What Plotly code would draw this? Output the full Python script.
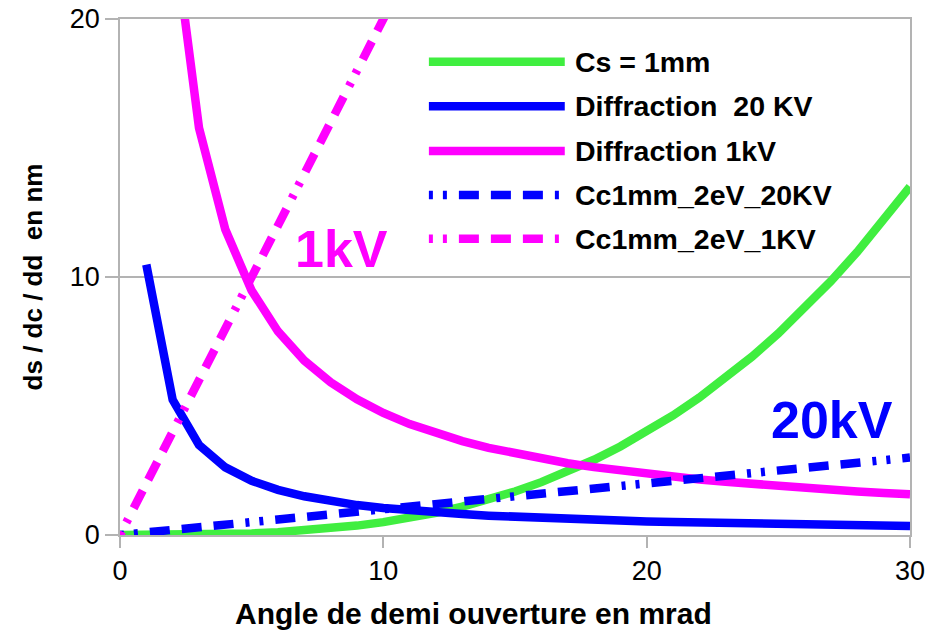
import plotly.graph_objects as go

# Half-aperture angle (mrad)
angle = list(range(0, 31))
angle_diff = list(range(1, 31))

# Spherical aberration, Cs = 1 mm (nm)
cs_1mm = [0.0, 0.0005, 0.004, 0.0135, 0.032, 0.0625, 0.108, 0.1715, 0.256, 0.3645,
          0.5, 0.6655, 0.864, 1.0985, 1.372, 1.6875, 2.048, 2.4565, 2.916, 3.4295,
          4.0, 4.6305, 5.324, 6.0835, 6.912, 7.8125, 8.788, 9.8415, 10.976, 12.1945, 13.5]

# Diffraction disc at 20 kV and 1 kV (nm)
diff_20kv = [10.48, 5.24, 3.49, 2.62, 2.10, 1.75, 1.50, 1.31, 1.16, 1.05,
             0.95, 0.87, 0.81, 0.75, 0.70, 0.66, 0.62, 0.58, 0.55, 0.52,
             0.50, 0.48, 0.46, 0.44, 0.42, 0.40, 0.39, 0.37, 0.36, 0.35]
diff_1kv = [47.3, 23.67, 15.78, 11.84, 9.47, 7.89, 6.76, 5.92, 5.26, 4.73,
            4.30, 3.95, 3.64, 3.38, 3.16, 2.96, 2.78, 2.63, 2.49, 2.37,
            2.25, 2.15, 2.06, 1.97, 1.89, 1.82, 1.75, 1.69, 1.63, 1.58]

# Chromatic aberration, Cc = 1 mm, dE = 2 eV (nm)
cc_20kv = [0.0, 0.1, 0.2, 0.3, 0.4, 0.5, 0.6, 0.7, 0.8, 0.9,
           1.0, 1.1, 1.2, 1.3, 1.4, 1.5, 1.6, 1.7, 1.8, 1.9,
           2.0, 2.1, 2.2, 2.3, 2.4, 2.5, 2.6, 2.7, 2.8, 2.9, 3.0]
cc_1kv = [0, 2, 4, 6, 8, 10, 12, 14, 16, 18,
          20, 22, 24, 26, 28, 30, 32, 34, 36, 38,
          40, 42, 44, 46, 48, 50, 52, 54, 56, 58, 60]

series_names = ["Cs = 1mm", "Diffraction  20 KV", "Diffraction 1kV",
                "Cc1mm_2eV_20KV", "Cc1mm_2eV_1KV"]

GREEN = "#40EE40"
BLUE = "#0000FF"
MAGENTA = "#FF00FF"
GRID = "#B3B3B3"
FONT = "Liberation Sans, Arial, sans-serif"
DASHDOTDOT = "4px,10px,4px,12px,20px,12px,20px,12px,20px,12px"
LW = 8.5

series = [
    (angle, cs_1mm, GREEN, "solid"),
    (angle_diff, diff_20kv, BLUE, "solid"),
    (angle_diff, diff_1kv, MAGENTA, "solid"),
    (angle, cc_20kv, BLUE, DASHDOTDOT),
    (angle, cc_1kv, MAGENTA, DASHDOTDOT),
]

fig = go.Figure()
for name, (xs, ys, color, dash) in zip(series_names, series):
    fig.add_trace(go.Scatter(x=xs, y=ys, mode="lines", name=name, showlegend=False,
                             line=dict(color=color, width=LW, dash=dash)))

# Legend drawn as line samples with labels, inside the plot area
legend_x0, legend_x1, legend_tx = 0.391, 0.563, 0.574
legend_rows = [0.917, 0.831, 0.744, 0.659, 0.574]
for name, (_, _, color, dash), ly in zip(series_names, series, legend_rows):
    fig.add_shape(type="line", xref="paper", yref="paper",
                  x0=legend_x0, x1=legend_x1, y0=ly, y1=ly,
                  line=dict(color=color, width=LW, dash=dash))
    fig.add_annotation(xref="paper", yref="paper", x=legend_tx, y=ly,
                       text=f"<b>{name}</b>", showarrow=False,
                       xanchor="left", yanchor="middle",
                       font=dict(family=FONT, size=28.5, color="black"))

# Voltage labels
fig.add_annotation(x=8.43, y=11.1, text="<b>1kV</b>", showarrow=False,
                   font=dict(family=FONT, size=52, color=MAGENTA))
fig.add_annotation(x=27.04, y=4.46, text="<b>20kV</b>", showarrow=False,
                   font=dict(family=FONT, size=52, color=BLUE))

# X-axis title, centred on the page
fig.add_annotation(xref="paper", yref="paper", x=0.447, y=-0.153,
                   text="<b>Angle de demi ouverture en mrad</b>", showarrow=False,
                   xanchor="center", yanchor="middle",
                   font=dict(family=FONT, size=30, color="black"))

fig.update_layout(
    width=946, height=634,
    margin=dict(l=120, r=36, t=19, b=99),
    paper_bgcolor="white", plot_bgcolor="white",
    font=dict(family=FONT, color="black"),
)
fig.update_xaxes(
    range=[0, 30], tickvals=[0, 10, 20, 30], showgrid=False, zeroline=False,
    showline=True, linecolor=GRID, linewidth=1.5, mirror=True,
    ticks="outside", ticklen=11, tickcolor=GRID, tickwidth=1.5,
    tickfont=dict(size=27), automargin=False,
)
fig.update_yaxes(
    range=[0, 20], tickvals=[0, 10, 20], showgrid=True, gridcolor=GRID, gridwidth=1.5,
    zeroline=False, showline=True, linecolor=GRID, linewidth=1.5, mirror=True,
    ticks="outside", ticklen=13, tickcolor=GRID, tickwidth=1.5,
    tickfont=dict(size=27), automargin=False,
    title=dict(text="<b>ds / dc / dd  en nm</b>", font=dict(size=26), standoff=20),
)

fig.write_html("out.html")
